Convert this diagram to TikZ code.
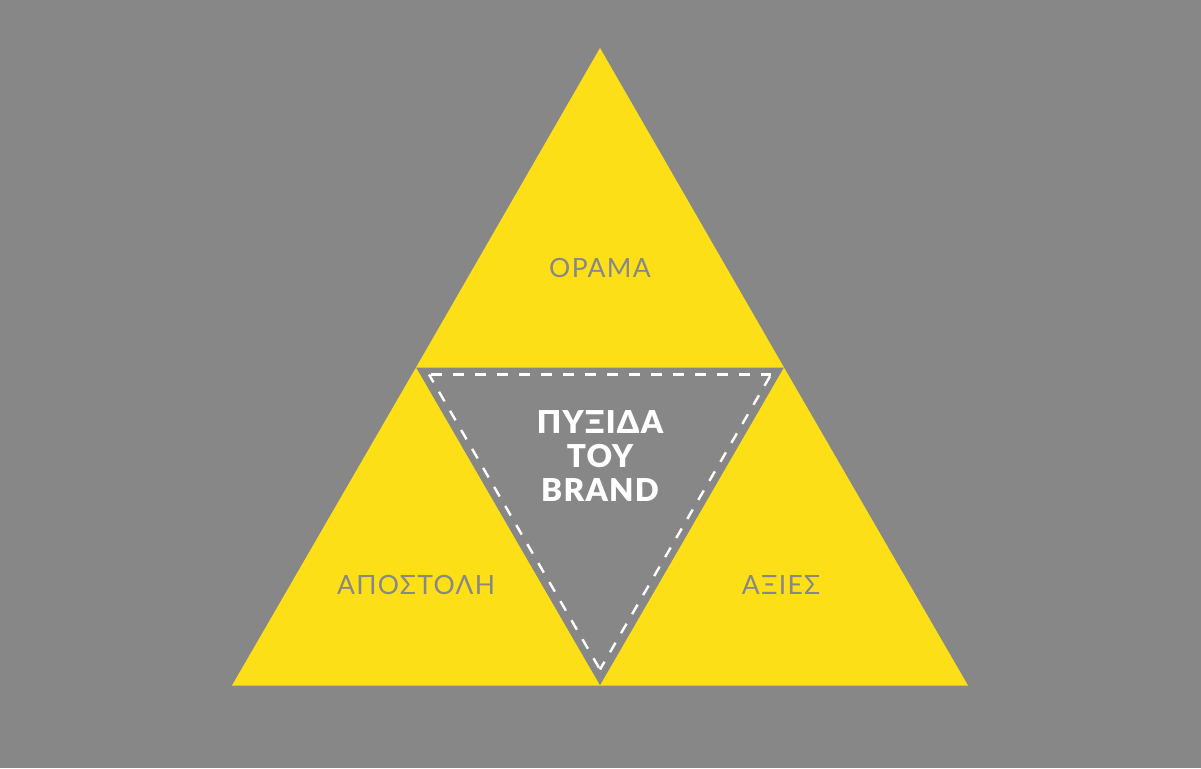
\documentclass[tikz,border=0pt]{standalone}
\usepackage{fontspec}
\setmainfont{Lato}[BoldFont=* Black]
\newfontfamily\labelfont{Lato}[LetterSpace=5]
\newfontfamily\centrefont{Lato Black}[LetterSpace=4]
\definecolor{bg}{HTML}{878787}
\definecolor{yel}{HTML}{FCDF17}
\begin{document}
\begin{tikzpicture}[x=1pt,y=-1pt,
  tri/.style={fill=yel,draw=none},
  lbl/.style={inner sep=0pt,text=bg,font=\labelfont\fontsize{26.5}{30}\selectfont},
  centre/.style={inner sep=0pt,text=white,align=center,font=\centrefont\fontsize{31.5}{34.3}\selectfont},
  dashline/.style={draw=white,line width=2.4pt,dash pattern=on 11pt off 11pt,line join=miter}]
\fill[bg] (0,0) rectangle (1201,768);
\useasboundingbox (0,0) rectangle (1201,768);
\coordinate (A) at (600,48);
\coordinate (B) at (416,367.5);
\coordinate (C) at (784,367.5);
\coordinate (D) at (232,685.5);
\coordinate (E) at (600,685.5);
\coordinate (F) at (968,685.5);
\coordinate (P) at (429,374.5);
\coordinate (Q) at (771,374.5);
\coordinate (R) at (600,669.5);
\fill[tri] (A) -- (B) -- (C) -- cycle;
\fill[tri] (B) -- (D) -- (E) -- cycle;
\fill[tri] (C) -- (E) -- (F) -- cycle;
\draw[dashline,dash phase=-2pt] (P) -- (Q);
\draw[dashline,dash phase=-2pt] (Q) -- (R);
\draw[dashline,dash phase=-2pt] (R) -- (P);
\node[lbl] (orama) at (600,267.5) {ΟΡΑΜΑ};
\node[lbl] (apostoli) at (416,584.5) {ΑΠΟΣΤΟΛΗ};
\node[lbl] (axies) at (781,584.5) {ΑΞΙΕΣ};
\node[centre] (pyxida) at (600,456.2) {ΠΥΞΙΔΑ\\ΤΟΥ\\BRAND};
\end{tikzpicture}
\end{document}
